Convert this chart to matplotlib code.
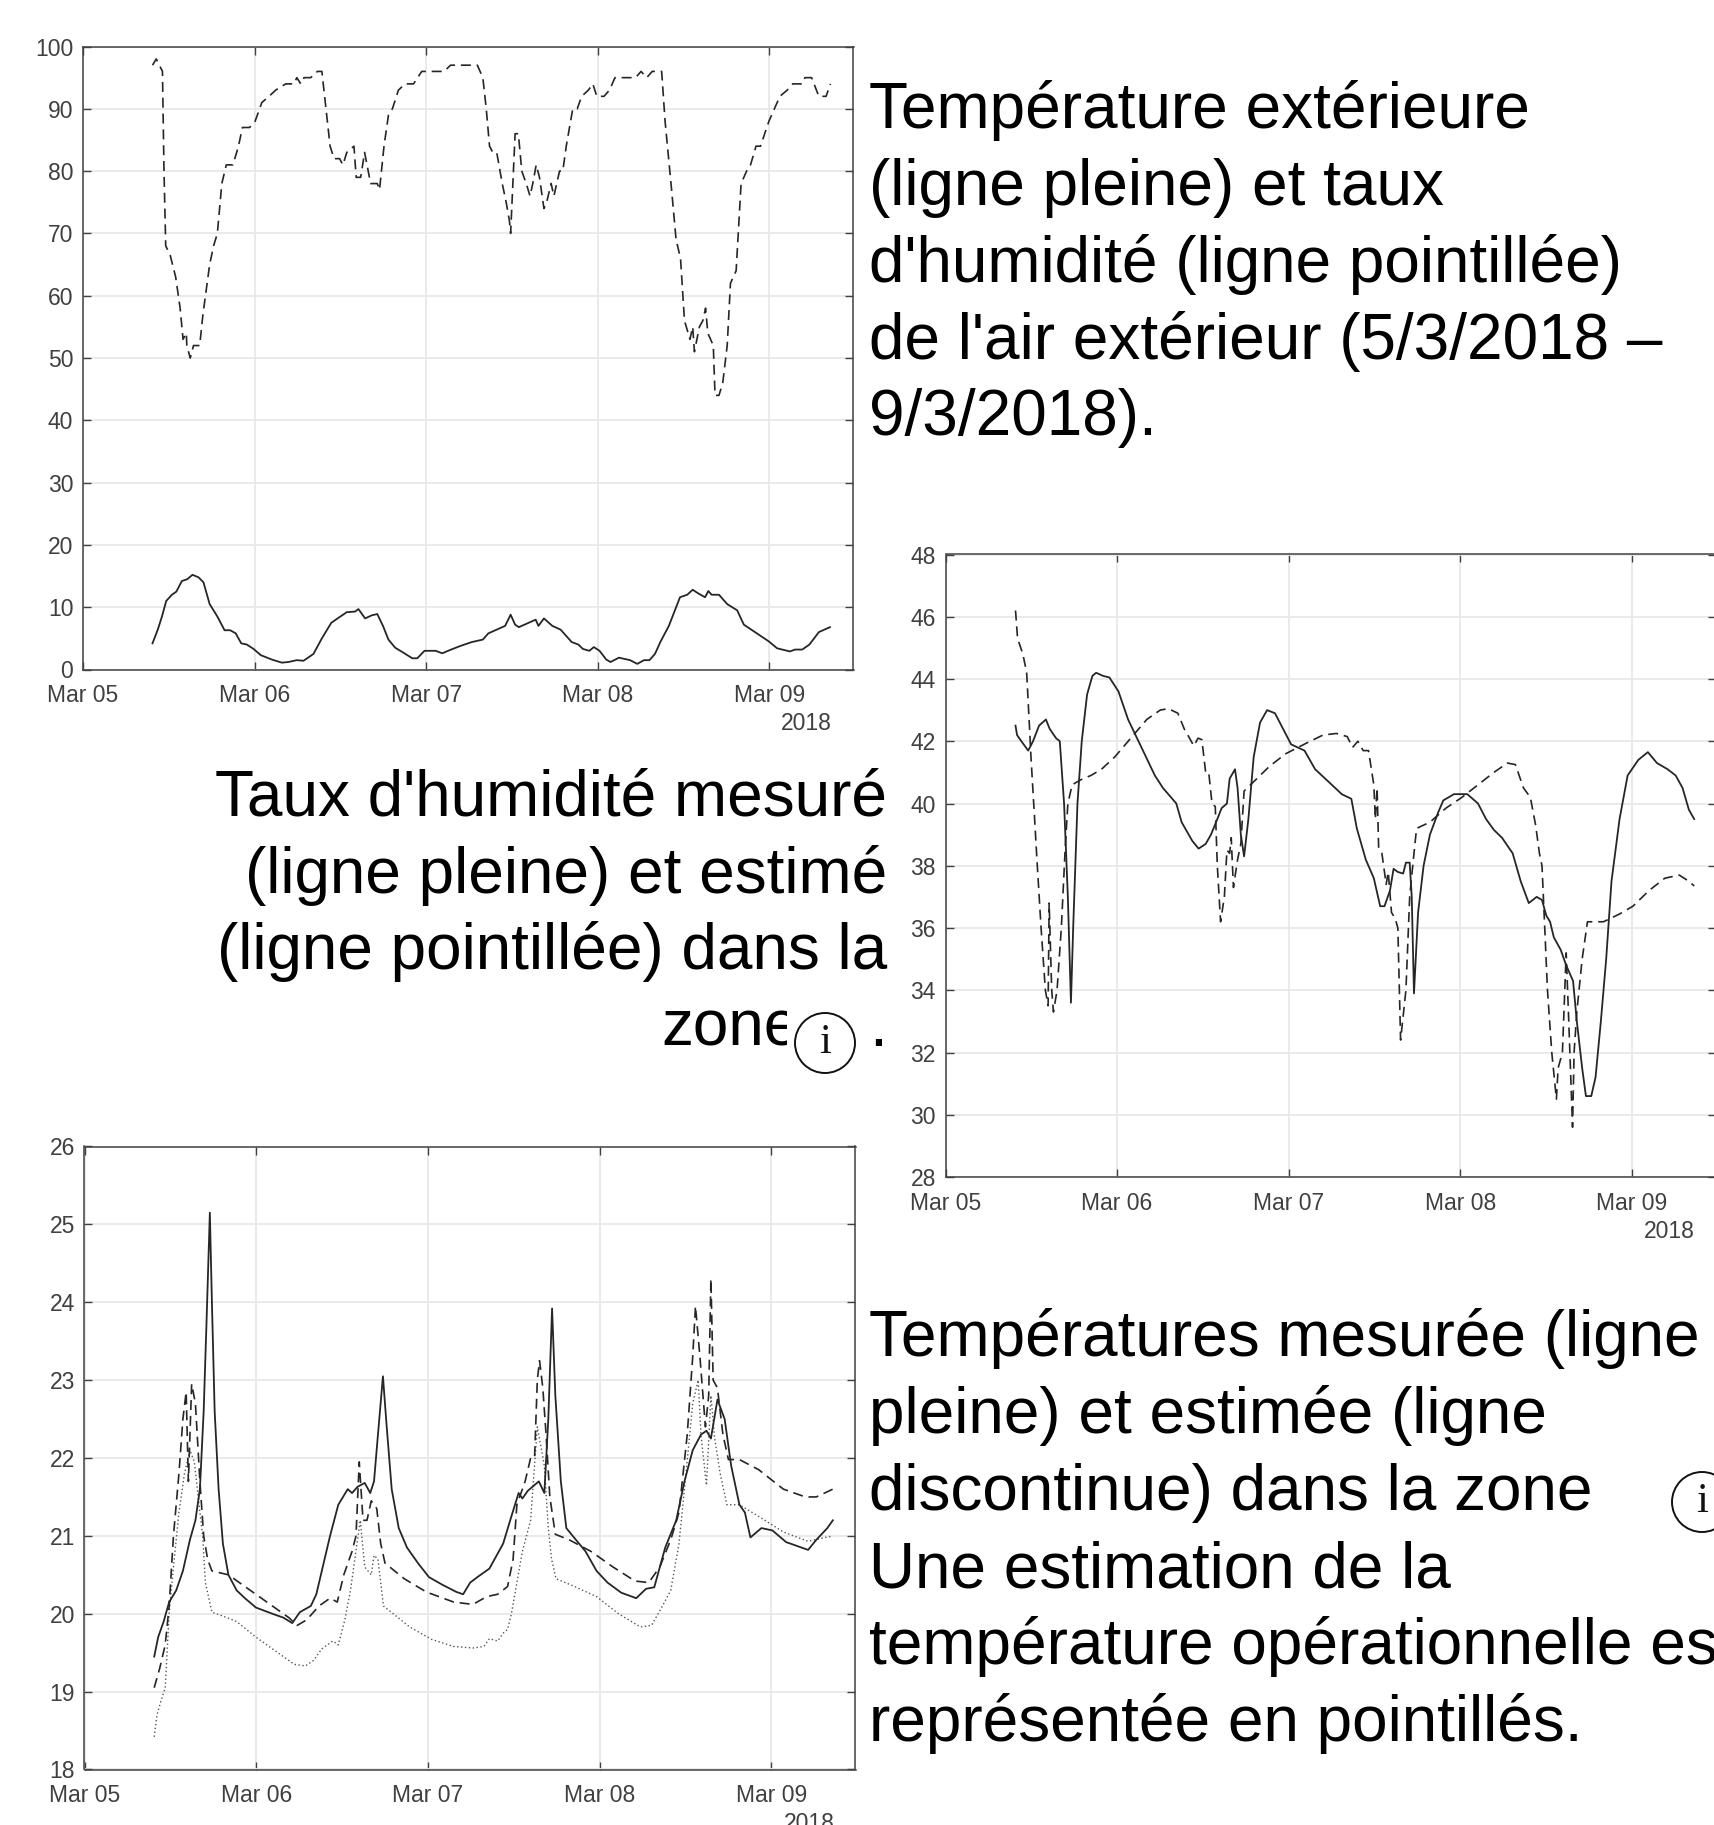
import datetime as dt
import numpy as np
import matplotlib
matplotlib.use("Agg")
import matplotlib.pyplot as plt
import matplotlib.dates as mdates
from matplotlib.patches import Circle, Rectangle

plt.rcParams['font.family'] = ['Liberation Sans', 'DejaVu Sans']

# --- data: x = days since 5 March 2018 00:00 ---
hum_x = [.405,.427,.463,.472,.482,.508,.540,.566,.583,.602,.605,.625,.644,.680,.699,.738,.761,.783,.809,.835,.874,.906,.929,.971,1.003,1.042,1.084,1.123,1.181,1.230,1.246,1.269,1.288,1.327,1.366,1.392,1.408,1.440,1.463,1.495,1.515,1.537,1.579,1.592,1.618,1.641,1.676,1.715,1.728,1.754,1.780,1.803,1.838,1.877,1.926,1.974,2.104,2.142,2.298,2.330,2.350,2.369,2.388,2.411,2.443,2.466,2.485,2.492,2.518,2.537,2.557,2.583,2.605,2.621,2.641,2.660,2.686,2.702,2.728,2.744,2.777,2.796,2.816,2.854,2.880,2.906,2.945,2.971,2.994,3.036,3.068,3.100,3.220,3.252,3.285,3.317,3.372,3.392,3.430,3.456,3.482,3.505,3.537,3.553,3.563,3.592,3.612,3.628,3.641,3.673,3.683,3.706,3.728,3.754,3.773,3.806,3.835,3.867,3.890,3.922,3.948,3.997,4.061,4.104,4.136,4.191,4.207,4.246,4.288,4.330,4.356]
hum_y = [97,98,96,80,68,66.5,63,58,53,54,52,50,52,52,57,65,68,70,78,81,81,84,87,87,88,91,92,93,94,94,95,94,95,95,96,96,92,84,82,82,81,83,84,79,79,83,78,78,77,84,89,90,93,94,94,96,96,97,97,95,90,84,83,83,78,75,72,70,86,86,80,78,76,78,81,79,74,75,78,76,80,80,84,90,90,92,93,94,92,92,93,95,95,96,95,96,96,88,77,69,66,56,53,55,51,55,56,58,54,52,44,44,46,52,62,64,78,80,81,84,84,88,92,93,94,94,95,95,92,92,94]

ext_x = [.405,.437,.460,.485,.518,.544,.576,.608,.638,.673,.702,.738,.783,.825,.858,.890,.922,.955,.994,1.036,1.100,1.159,1.197,1.246,1.285,1.343,1.392,1.447,1.489,1.537,1.586,1.605,1.644,1.683,1.715,1.748,1.780,1.819,1.861,1.919,1.948,1.990,2.055,2.094,2.136,2.201,2.265,2.330,2.362,2.411,2.460,2.492,2.518,2.540,2.589,2.638,2.654,2.686,2.735,2.783,2.848,2.887,2.913,2.951,2.977,3.010,3.049,3.074,3.123,3.188,3.230,3.269,3.301,3.333,3.366,3.414,3.479,3.521,3.553,3.586,3.625,3.644,3.663,3.706,3.754,3.812,3.851,3.916,3.997,4.045,4.120,4.149,4.191,4.233,4.288,4.353]
ext_y = [4.2,6.5,8.5,11,12,12.5,14.2,14.5,15.2,14.8,14,10.5,8.5,6.3,6.3,5.8,4.2,4,3.3,2.3,1.6,1.1,1.2,1.5,1.4,2.5,5,7.5,8.3,9.2,9.3,9.7,8.2,8.7,8.9,7,4.8,3.5,2.8,1.8,1.8,3,3,2.6,3.1,3.8,4.4,4.8,5.8,6.4,7,8.8,7.2,6.8,7.4,8,7,8.2,7,6.4,4.4,4,3.3,3,3.6,3,1.6,1.2,1.9,1.5,.9,1.5,1.5,2.5,4.5,7,11.6,12,12.8,12.2,11.6,12.6,12,12,10.5,9.5,7.2,6,4.5,3.4,2.9,3.2,3.2,4,6,6.8]

rh_meas_x = [.408,.417,.442,.482,.510,.545,.585,.607,.644,.666,.691,.713,.731,.744,.769,.794,.825,.856,.878,.918,.955,1.008,1.064,1.142,1.220,1.267,1.345,1.376,1.438,1.475,1.516,1.547,1.584,1.609,1.640,1.656,1.687,1.702,1.721,1.740,1.765,1.796,1.833,1.874,1.920,1.967,2.014,2.092,2.154,2.232,2.309,2.365,2.397,2.449,2.496,2.533,2.558,2.590,2.611,2.636,2.667,2.683,2.705,2.717,2.730,2.754,2.786,2.823,2.870,2.901,2.963,3.041,3.103,3.150,3.196,3.243,3.305,3.352,3.399,3.445,3.476,3.501,3.523,3.545,3.585,3.617,3.657,3.679,3.710,3.732,3.763,3.788,3.819,3.850,3.881,3.928,3.975,4.037,4.093,4.146,4.208,4.255,4.295,4.332,4.363]
rh_meas_y = [42.5,42.2,42,41.7,42,42.5,42.7,42.4,42.1,42,40,37,33.6,36,40,42,43.5,44.1,44.2,44.1,44.05,43.6,42.7,41.8,40.9,40.5,40,39.4,38.8,38.55,38.7,39,39.5,39.85,40,40.8,41.1,40.5,39,38.3,39.5,41.5,42.6,43,42.9,42.4,41.9,41.7,41.1,40.7,40.3,40.15,39.2,38.2,37.6,36.7,36.7,37.2,37.9,37.8,37.75,38.1,38.1,37,33.9,36.5,38,39,39.7,40.1,40.3,40.3,40,39.5,39.15,38.9,38.4,37.5,36.8,37,36.9,36.4,36.2,35.7,35.3,34.8,34.3,33,31.5,30.6,30.6,31.2,33,35,37.5,39.5,40.9,41.4,41.65,41.3,41.1,40.9,40.5,39.8,39.5]

rh_est_x = [.408,.420,.451,.473,.489,.498,.514,.535,.557,.582,.598,.604,.619,.629,.650,.675,.697,.713,.738,.784,.847,.909,.987,1.080,1.173,1.251,1.298,1.354,1.391,1.422,1.447,1.472,1.494,1.516,1.534,1.553,1.572,1.584,1.603,1.625,1.640,1.656,1.665,1.678,1.702,1.721,1.740,1.796,1.889,1.983,2.107,2.200,2.278,2.341,2.372,2.403,2.434,2.465,2.496,2.505,2.515,2.524,2.543,2.568,2.580,2.599,2.621,2.636,2.652,2.683,2.705,2.730,2.745,2.823,2.916,3.010,3.103,3.196,3.274,3.321,3.368,3.408,3.439,3.461,3.476,3.492,3.508,3.533,3.560,3.570,3.595,3.617,3.632,3.654,3.663,3.679,3.710,3.741,3.834,3.928,4.006,4.099,4.192,4.276,4.332,4.363]
rh_est_y = [46.2,45.3,44.8,44.2,42.5,41.5,40,38,36,34,33.5,36.8,34,33.3,34,36,38.5,40,40.6,40.75,40.9,41.1,41.5,42.1,42.7,43,43.05,42.9,42.4,42.1,41.85,42.1,42.05,41,41,40,39.9,38,36.2,37,38.5,38.4,38.9,37.3,38.2,38.7,40.4,40.7,41.2,41.6,41.95,42.2,42.25,42.15,41.8,42,41.7,41.7,40.6,39.5,40.5,38.6,38.4,37.4,37.8,36.5,36.3,36,32.4,34,37,38.4,39.2,39.4,39.85,40.2,40.6,41,41.3,41.25,40.5,40.2,39.3,38.4,38,36,34,32,30.5,31.5,32,35.2,33,29.6,32,33.3,35,36.2,36.2,36.45,36.7,37.2,37.6,37.7,37.5,37.35]

t_meas_x = [.406,.429,.461,.493,.534,.573,.614,.646,.672,.694,.710,.730,.742,.758,.781,.806,.838,.886,.934,.998,1.094,1.158,1.210,1.254,1.318,1.350,1.398,1.430,1.478,1.533,1.558,1.590,1.632,1.664,1.686,1.709,1.738,1.760,1.789,1.830,1.878,1.942,2.006,2.086,2.166,2.205,2.246,2.294,2.358,2.438,2.486,2.528,2.550,2.582,2.646,2.678,2.701,2.723,2.742,2.774,2.806,2.854,2.918,2.982,3.046,3.126,3.213,3.270,3.318,3.382,3.446,3.494,3.542,3.590,3.622,3.648,3.686,3.728,3.766,3.814,3.846,3.878,3.942,4.006,4.086,4.214,4.262,4.326,4.358]
t_meas_y = [19.45,19.7,19.9,20.15,20.3,20.55,20.95,21.2,21.6,22.6,23.7,25.15,24,22.6,21.6,20.9,20.5,20.3,20.2,20.08,20,19.95,19.88,20.02,20.1,20.25,20.7,21,21.4,21.6,21.55,21.63,21.68,21.55,21.7,22.3,23.05,22.4,21.6,21.1,20.85,20.65,20.47,20.37,20.28,20.25,20.4,20.48,20.58,20.9,21.25,21.55,21.48,21.58,21.7,21.55,22.5,23.92,22.8,21.7,21.1,20.97,20.8,20.55,20.4,20.27,20.2,20.32,20.34,20.85,21.2,21.7,22.1,22.3,22.35,22.25,22.75,22.5,21.9,21.4,21.3,20.98,21.1,21.07,20.92,20.82,20.95,21.1,21.2]

t_est_x = [.406,.438,.470,.493,.518,.550,.573,.592,.605,.624,.646,.672,.694,.717,.742,.838,.934,1.062,1.190,1.238,1.293,1.366,1.430,1.472,1.510,1.558,1.581,1.600,1.622,1.645,1.670,1.702,1.725,1.750,1.862,1.990,2.150,2.262,2.342,2.406,2.464,2.496,2.518,2.566,2.598,2.621,2.637,2.650,2.669,2.688,2.710,2.742,2.822,2.950,3.078,3.206,3.286,3.350,3.414,3.462,3.510,3.542,3.558,3.584,3.616,3.635,3.648,3.661,3.686,3.718,3.750,3.814,3.926,4.070,4.198,4.262,4.358]
t_est_y = [19.05,19.3,19.6,20.1,21,21.8,22.5,22.85,21.7,22.95,22.7,21.7,21,20.7,20.55,20.5,20.35,20.15,19.95,19.85,19.92,20.1,20.2,20.15,20.5,20.8,21,21.95,21.2,21.2,21.45,21.35,20.9,20.65,20.45,20.28,20.15,20.12,20.22,20.25,20.35,20.7,21.4,21.7,22,22,23,23.25,22.9,22.3,21.5,21.02,20.95,20.8,20.6,20.42,20.4,20.6,20.95,21.3,22.3,23.3,23.95,23.3,22.4,22.8,24.3,23,22.9,22.3,21.98,21.98,21.85,21.6,21.5,21.5,21.6]

t_op_x = [.406,.422,.448,.470,.493,.518,.550,.582,.614,.640,.662,.688,.704,.742,.806,.886,.998,1.126,1.222,1.286,1.334,1.382,1.446,1.478,1.517,1.549,1.574,1.606,1.632,1.670,1.686,1.709,1.741,1.798,1.894,2.022,2.150,2.262,2.326,2.358,2.406,2.438,2.464,2.486,2.518,2.550,2.598,2.637,2.662,2.678,2.701,2.720,2.746,2.854,2.982,3.110,3.238,3.302,3.366,3.414,3.462,3.494,3.542,3.574,3.590,3.622,3.648,3.670,3.702,3.741,3.814,3.926,4.070,4.214,4.294,4.358]
t_op_y = [18.42,18.7,18.9,19.05,20,20.6,21.3,21.8,22.1,21.95,21.5,21,20.4,20.02,19.97,19.9,19.7,19.5,19.35,19.33,19.4,19.55,19.65,19.6,19.93,20.3,20.7,21.2,20.6,20.5,20.75,20.7,20.1,20,19.83,19.67,19.58,19.56,19.58,19.68,19.65,19.75,19.8,20,20.4,20.8,21.2,22.4,22.1,21.9,21.1,20.7,20.45,20.35,20.22,20,19.83,19.85,20.1,20.3,20.9,21.6,22.7,23,22.3,21.65,22.8,22.25,21.8,21.4,21.4,21.25,21.05,20.93,20.97,21]

yticks_top = list(range(0, 101, 10))
yticks_mid = list(range(28, 49, 2))
yticks_bot = list(range(18, 27))
year_label = "2018"

caption_top = ["Température extérieure", "(ligne pleine) et taux", "d'humidité (ligne pointillée)",
               "de l'air extérieur (5/3/2018 –", "9/3/2018)."]
caption_mid = ["Taux d'humidité mesuré", "(ligne pleine) et estimé", "(ligne pointillée) dans la", "zone"]
caption_bot = ["Températures mesurée (ligne", "pleine) et estimée (ligne", "discontinue) dans la zone",
               "Une estimation de la", "température opérationnelle est", "représentée en pointillés."]

# --- layout ---
W, H = 1715, 1825
fig = plt.figure(figsize=(W / 100, H / 100), dpi=100, facecolor='white')
base = mdates.date2num(dt.datetime(2018, 3, 5))
DK = '#404040'
LINE = '#262626'


def make_axes(l, t, r, b, yticks):
    ax = fig.add_axes([l / W, 1 - b / H, (r - l) / W, (b - t) / H])
    ax.set_xlim(base, base + 4.49)
    ax.set_ylim(yticks[0], yticks[-1])
    ax.set_yticks(yticks)
    ax.xaxis.set_major_locator(mdates.DayLocator())
    ax.xaxis.set_major_formatter(mdates.DateFormatter('%b %d'))
    ax.grid(True, color='#e8e8e8', lw=1.3)
    ax.set_axisbelow(True)
    ax.tick_params(direction='in', length=6, width=1, color=DK, labelcolor=DK,
                   labelsize=16.5, top=True, right=True)
    ax.tick_params(axis='x', pad=10.5)
    ax.tick_params(axis='y', pad=7)
    for s in ax.spines.values():
        s.set_color(DK)
        s.set_linewidth(1.1)
    return ax


def plot(ax, x, y, style):
    ax.plot(base + np.asarray(x), y, **style)


solid = dict(color=LINE, lw=1.3)
dashed = dict(color=LINE, lw=1.2, dashes=(6, 3.5))
dotted = dict(color='#555555', lw=1.0, dashes=(1, 1.8))

ax1 = make_axes(83, 46.5, 853.5, 669.5, yticks_top)
plot(ax1, hum_x, hum_y, dashed)
plot(ax1, ext_x, ext_y, solid)

ax2 = make_axes(945.5, 554.5, 1716, 1177, yticks_mid)
plot(ax2, rh_est_x, rh_est_y, dashed)
plot(ax2, rh_meas_x, rh_meas_y, solid)

ax3 = make_axes(84.5, 1146.5, 855.5, 1769.5, yticks_bot)
plot(ax3, t_op_x, t_op_y, dotted)
plot(ax3, t_est_x, t_est_y, dashed)
plot(ax3, t_meas_x, t_meas_y, solid)

# overlay in image pixels for the captions and year labels
ov = fig.add_axes([0, 0, 1, 1], zorder=10)
ov.set_xlim(0, W)
ov.set_ylim(H, 0)
ov.axis('off')
ov.patch.set_alpha(0)

for px, py in [(832, 724), (1695, 1232), (835, 1823)]:
    ov.text(px, py, year_label, ha='right', va='center', fontsize=16.5, color=DK, clip_on=True)

FS = 46
for line, by in zip(caption_top, [128, 205, 282, 359, 435]):
    ov.text(869, by, line, ha='left', va='baseline', fontsize=FS, color='black')
for line, by in zip(caption_mid[:3], [815, 893, 969]):
    ov.text(887, by, line, ha='right', va='baseline', fontsize=FS, color='black')
ov.text(661, 1046, caption_mid[3], ha='left', va='baseline', fontsize=FS, color='black')
ov.text(887, 1046, ".", ha='right', va='baseline', fontsize=FS, color='black')
for line, by in zip(caption_bot, [1356, 1433, 1510, 1587, 1664, 1741]):
    ov.text(869, by, line, ha='left', va='baseline', fontsize=FS, color='black', clip_on=True)

for cx, cy in [(825, 1043), (1702, 1502)]:
    ov.add_patch(Rectangle((cx - 38, cy - 36), 76, 72, facecolor='white', edgecolor='none', zorder=4))
    ov.add_patch(Circle((cx, cy), 30, facecolor='white', edgecolor='#111111', lw=1.4, zorder=5))
    ov.text(cx, cy, "i", ha='center', va='center', fontsize=31, zorder=6,
            family=['Liberation Serif', 'DejaVu Serif'], color='#111111')

fig.savefig('out.png', dpi=100)
